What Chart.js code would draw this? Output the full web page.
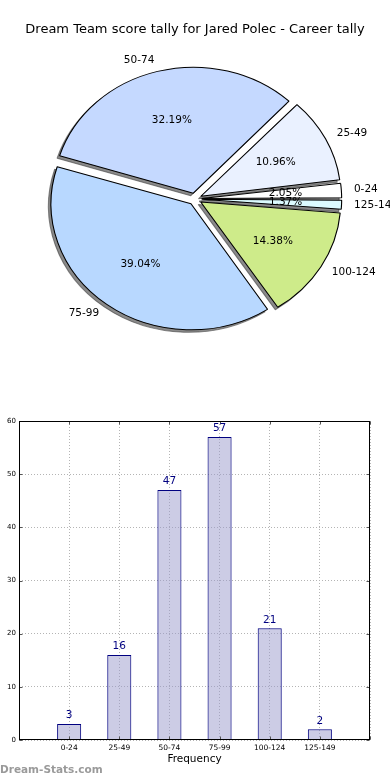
<!DOCTYPE html>
<html>
<head>
<meta charset="utf-8">
<title>Dream Team score tally</title>
<script src="https://cdn.jsdelivr.net/npm/chart.js@4.4.1/dist/chart.umd.min.js"></script>
<style>
  body { margin: 0; background: #fff; width: 390px; height: 780px; position: relative; overflow: hidden; }
  canvas { position: absolute; left: 0; }
  #graficoTorta { top: 0; }
  #graficoBarras { top: 400px; }
  #marca { position: absolute; left: 0; top: 763px; font: bold 10.5px "DejaVu Sans", sans-serif; color: #9a9a9a; }
</style>
</head>
<body>
<canvas id="graficoTorta" width="390" height="400"></canvas>
<canvas id="graficoBarras" width="390" height="380"></canvas>
<div id="marca">Dream-Stats.com</div>
<script>
// --- Datos ---
const titulo = 'Dream Team score tally for Jared Polec - Career tally';
const categorias = ['0-24', '25-49', '50-74', '75-99', '100-124', '125-149'];
const cantidades = [3, 16, 47, 57, 21, 2];
const coloresTorta = ['#ffffff', '#eaf1ff', '#c5d9ff', '#b8d8ff', '#ceeb8a', '#dcfbff'];
const ejeYMax = 60;
const ejeYPaso = 10;
const tituloEjeX = 'Frequency';

const FUENTE = '"DejaVu Sans", sans-serif';
const ESCALA_X = 140 / 126; // la torta original es algo eliptica
const SOMBRA = 'rgba(60, 60, 60, 0.6)';

document.addEventListener('DOMContentLoaded', () => {
    const total = cantidades.reduce((a, b) => a + b, 0);

    // la torta va en sentido antihorario desde el este: invertimos el orden
    const etiquetasTorta = categorias.slice().reverse();
    const valoresTorta = cantidades.slice().reverse();
    const coloresInv = coloresTorta.slice().reverse();

    // estira la torta en x, corrige el radio de los sectores separados y dibuja la sombra
    const formaTorta = {
        id: 'formaTorta',
        beforeDatasetsDraw(chart) {
            const arcos = chart.getDatasetMeta(0).data;
            const ctx = chart.ctx;
            const cx = arcos[0].x, cy = arcos[0].y;
            ctx.save();
            ctx.translate(cx, cy);
            ctx.scale(ESCALA_X, 1);
            ctx.translate(-cx, -cy);
            arcos.forEach(arc => {
                // Chart.js agranda los sectores chicos al separarlos; se compensa
                const desp = (arc.options.offset || 0) / 4;
                const fix = 1 - Math.sin(Math.min(Math.PI, arc.circumference));
                arc._radioOrig = arc.outerRadius;
                arc.outerRadius = arc._radioOrig - desp * fix;
            });
            arcos.forEach(arc => {
                const orig = arc.options;
                arc.options = Object.assign({}, orig, { backgroundColor: SOMBRA, borderColor: SOMBRA });
                ctx.save();
                ctx.translate(-2.5 / ESCALA_X, 2.5);
                arc.draw(ctx);
                ctx.restore();
                arc.options = orig;
            });
        },
        afterDatasetsDraw(chart) {
            chart.ctx.restore();
            chart.getDatasetMeta(0).data.forEach(arc => {
                if (arc._radioOrig !== undefined) arc.outerRadius = arc._radioOrig;
            });
        }
    };

    // titulo, porcentajes y etiquetas
    const textosTorta = {
        id: 'textosTorta',
        afterDraw(chart) {
            const ctx = chart.ctx;
            const meta = chart.getDatasetMeta(0);
            ctx.save();
            ctx.fillStyle = '#000';
            ctx.textBaseline = 'middle';
            ctx.textAlign = 'center';
            ctx.font = '13px ' + FUENTE;
            ctx.fillText(titulo, chart.width / 2, 30);
            ctx.font = '10.5px ' + FUENTE;
            meta.data.forEach((arc, i) => {
                const medio = (arc.startAngle + arc.endAngle) / 2;
                const desp = (arc.options.offset || 0) / 4;
                const c = Math.cos(medio), s = Math.sin(medio);
                const pos = (d) => [
                    arc.x + ESCALA_X * c * (desp + d * arc.outerRadius),
                    arc.y + s * (desp + d * arc.outerRadius)
                ];
                const pct = (valoresTorta[i] / total * 100).toFixed(2) + '%';
                const [px, py] = pos(0.6);
                ctx.textAlign = 'center';
                ctx.fillText(pct, px, py);
                const [lx, ly] = pos(1.09);
                ctx.textAlign = c > 0 ? 'left' : 'right';
                ctx.fillText(etiquetasTorta[i], lx, ly);
            });
            ctx.restore();
        }
    };

    new Chart(document.getElementById('graficoTorta'), {
        type: 'pie',
        data: {
            labels: etiquetasTorta,
            datasets: [{
                data: valoresTorta,
                backgroundColor: coloresInv,
                borderColor: '#000',
                borderWidth: 1,
                offset: 24
            }]
        },
        options: {
            responsive: false,
            animation: false,
            rotation: 90,
            radius: 126,
            layout: { padding: { top: 0, bottom: 2 } },
            plugins: { legend: { display: false }, tooltip: { enabled: false } }
        },
        plugins: [formaTorta, textosTorta]
    });

    // --- Grafico de barras ---
    const etiquetasBarras = ['', ...categorias, ''];
    const datosBarras = [null, ...cantidades, null];

    const extrasBarras = {
        id: 'extrasBarras',
        afterDraw(chart) {
            const ctx = chart.ctx;
            const a = chart.chartArea;
            const izq = Math.round(a.left) + 0.5, der = Math.round(a.right) - 0.5;
            const arr = Math.round(a.top) + 0.5, aba = Math.round(a.bottom) - 0.5;
            ctx.save();
            // marcas de los ticks hacia adentro
            ctx.strokeStyle = '#555';
            ctx.lineWidth = 1;
            ctx.beginPath();
            const ex = chart.scales.x, ey = chart.scales.y;
            ex.ticks.forEach((t, i) => {
                const px = Math.round(ex.getPixelForTick(i)) + 0.5;
                ctx.moveTo(px, arr); ctx.lineTo(px, arr + 3);
                ctx.moveTo(px, aba); ctx.lineTo(px, aba - 3);
            });
            ey.ticks.forEach((t, i) => {
                const py = Math.round(ey.getPixelForTick(i)) + 0.5;
                ctx.moveTo(izq, py); ctx.lineTo(izq + 3, py);
                ctx.moveTo(der, py); ctx.lineTo(der - 3, py);
            });
            ctx.stroke();
            // marco
            ctx.strokeStyle = '#000';
            ctx.strokeRect(izq, arr, der - izq, aba - arr);
            // valores sobre las barras
            ctx.fillStyle = '#000080';
            ctx.font = '10.5px ' + FUENTE;
            ctx.textAlign = 'center';
            ctx.textBaseline = 'middle';
            chart.getDatasetMeta(0).data.forEach((barra, i) => {
                const v = datosBarras[i];
                if (v === null) return;
                ctx.fillText(String(v), barra.x, barra.y - 8.5);
            });
            ctx.restore();
        }
    };

    new Chart(document.getElementById('graficoBarras'), {
        type: 'bar',
        data: {
            labels: etiquetasBarras,
            datasets: [{
                data: datosBarras,
                backgroundColor: 'rgba(153, 153, 204, 0.5)',
                borderColor: '#000080',
                borderWidth: 1,
                barPercentage: 0.48,
                categoryPercentage: 1
            }]
        },
        options: {
            responsive: false,
            animation: false,
            layout: { padding: { top: 21, right: 20, left: 0, bottom: 0 } },
            plugins: { legend: { display: false }, tooltip: { enabled: false } },
            scales: {
                x: {
                    offset: false,
                    grid: { color: '#b4b4b4', drawTicks: false, offset: false },
                    border: { display: false, dash: [1, 2] },
                    ticks: { font: { family: FUENTE, size: 7.5 }, color: '#000', padding: 4, maxRotation: 0, autoSkip: false },
                    title: { display: true, text: tituloEjeX, color: '#000', font: { family: FUENTE, size: 10.5 }, padding: { top: 0, bottom: 14 } },
                    afterFit(escala) { escala.height = 40; }
                },
                y: {
                    min: 0,
                    max: ejeYMax,
                    grid: { color: '#b4b4b4', drawTicks: false },
                    border: { display: false, dash: [1, 2] },
                    ticks: { stepSize: ejeYPaso, font: { family: FUENTE, size: 7 }, color: '#000', padding: 3 },
                    afterFit(escala) { escala.width = 19; }
                }
            }
        },
        plugins: [extrasBarras]
    });
});
</script>
</body>
</html>
